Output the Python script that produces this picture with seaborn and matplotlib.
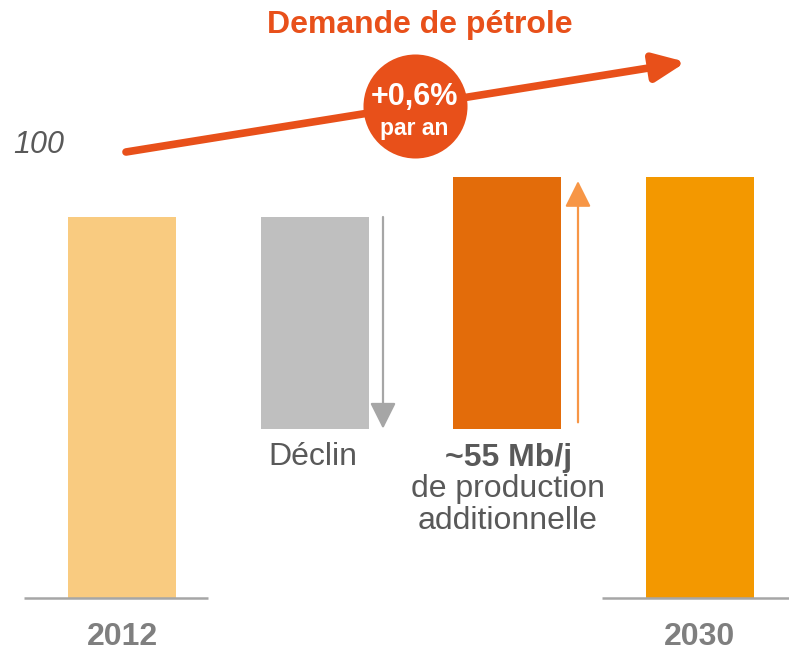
import matplotlib
matplotlib.use("Agg")
import matplotlib.pyplot as plt
import seaborn as sns
import pandas as pd

# ---- data ----
categories = ["2012", "Déclin", "Production additionnelle", "2030"]
bar_bottoms = [0, 40, 40, 0]          # Mb/j (schematic waterfall)
bar_tops = [90, 90, 99.5, 99.5]
bar_colors = ["#F9CB80", "#BFBFBF", "#E36C0A", "#F39800"]
title_text = "Demande de pétrole"
growth_text = "+0,6%"
growth_sub = "par an"
index_label = "100"
decline_label = "Déclin"
add_label_bold = "~55 Mb/j"
add_label_lines = ["de production", "additionnelle"]
year_labels = ["2012", "2030"]

# ---- layout helpers (pixel geometry of the 789x653 canvas) ----
W, H = 789, 653
X0_PX, X_STEP_PX = 122.0, 192.6        # centre of first category, spacing
BASE_PX, PX_PER_UNIT = 598.0, 381.0 / 90.0


def xd(px):
    return (px - X0_PX) / X_STEP_PX


def yd(py):
    return (BASE_PX - py) / PX_PER_UNIT


sns.set_theme(style="white")
plt.rcParams["font.family"] = ["Liberation Sans", "DejaVu Sans"]

fig = plt.figure(figsize=(W / 100, H / 100), dpi=100)
ax = fig.add_axes([0, 0, 1, 1])

for cat, b, t, c in zip(categories, bar_bottoms, bar_tops, bar_colors):
    sns.barplot(x=[cat], y=[t - b], order=categories, color=c, saturation=1,
                width=108 / X_STEP_PX, bottom=b, errorbar=None, linewidth=0, ax=ax)

ax.set_xlim(xd(0), xd(W))
ax.set_ylim(yd(H), yd(0))
ax.axis("off")

grey_txt = "#595959"
orange_title = "#E8501A"

# baselines under 2012 and 2030
ax.plot([xd(24), xd(208)], [0, 0], color="#A6A6A6", lw=1.8, solid_capstyle="butt")
ax.plot([xd(602), xd(W)], [0, 0], color="#A6A6A6", lw=1.8, solid_capstyle="butt")

# year labels
for i, lab in zip([0, 3], year_labels):
    ax.text(i, yd(637), lab, ha="center", va="center", fontsize=23,
            fontweight="bold", color="#7F7F7F")

# decline arrow (grey, down)
ax.annotate("", xy=(xd(383), bar_bottoms[1]), xytext=(xd(383), bar_tops[1]),
            arrowprops=dict(arrowstyle="-|>,head_length=0.8,head_width=0.4",
                            color="#A6A6A6", lw=1.6, mutation_scale=20,
                            shrinkA=0, shrinkB=0))
# additional production arrow (light orange, up)
ax.annotate("", xy=(xd(578), bar_tops[2] - 1), xytext=(xd(578), bar_bottoms[2] + 1.5),
            arrowprops=dict(arrowstyle="-|>,head_length=0.8,head_width=0.4",
                            color="#F79646", lw=1.6, mutation_scale=20,
                            shrinkA=0, shrinkB=0))

# text labels
ax.text(xd(313), yd(457), decline_label, ha="center", va="center",
        fontsize=23, color=grey_txt)
ax.text(xd(509), yd(458), add_label_bold, ha="center", va="center", fontsize=23,
        fontweight="bold", color=grey_txt)
for k, line in enumerate(add_label_lines):
    ax.text(xd(508), yd(489 + 32 * k), line, ha="center", va="center",
            fontsize=23, color=grey_txt)

ax.text(xd(13), yd(145), index_label, ha="left", va="center", fontsize=22,
        fontstyle="italic", color=grey_txt)

# title
ax.text(xd(420), yd(25), title_text, ha="center", va="center", fontsize=23,
        fontweight="bold", color=orange_title)

# trend arrow
ax.annotate("", xy=(xd(686), yd(62)), xytext=(xd(126), yd(152)),
            arrowprops=dict(arrowstyle="-|>,head_length=0.95,head_width=0.42",
                            color=orange_title, lw=5.5, mutation_scale=20,
                            shrinkA=0, shrinkB=0))

# growth bubble
ax.plot([xd(414.5)], [yd(106)], marker="o", markersize=78.5, color=orange_title,
        markeredgecolor="white", markeredgewidth=3.6)
ax.text(xd(414.5), yd(97), growth_text, ha="center", va="center", fontsize=22,
        fontweight="bold", color="white")
ax.text(xd(414.5), yd(129), growth_sub, ha="center", va="center", fontsize=16.5,
        fontweight="bold", color="white")

fig.savefig("out.png", dpi=100)
